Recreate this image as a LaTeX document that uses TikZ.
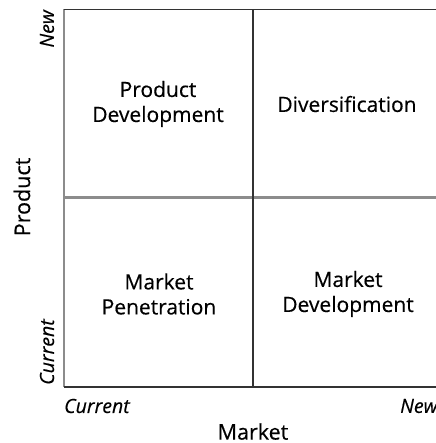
\documentclass[tikz,border=0pt]{standalone}
\usepackage{fontspec}
\setmainfont{Open Sans}[FakeBold=0.4,AutoFakeBold=0.4]
\usetikzlibrary{positioning}

\tikzset{
    cell/.style={align=center, font=\fontsize{21}{25}\selectfont\bfseries},
    axislabel/.style={font=\fontsize{21.5}{22}\selectfont\bfseries},
    endlabel/.style={font=\fontsize{19.5}{20}\selectfont\itshape},
    darkline/.style={draw=black!80, line width=1.6pt},
    lightline/.style={draw=black!45, line width=2.4pt},
}

\begin{document}
\begin{tikzpicture}[x=1pt,y=1pt]

    % Fix the page to the size of the reference
    \useasboundingbox (0,0) rectangle (435,443);

    % Define the grid positions
    \def\xl{64}
    \def\xm{253}
    \def\xr{440}
    \def\yt{433.5}
    \def\ym{245.5}
    \def\yb{56}

    % Draw the grid lines
    \draw[lightline] (\xl,\ym) -- (\xr,\ym);
    \draw[lightline, line width=2pt] (\xl,\yt) -- (\xl,\yb);
    \draw[darkline] (\xl,\yt) -- (\xr,\yt);
    \draw[darkline] (\xl,\yb) -- (\xr,\yb);
    \draw[darkline] (\xm,\yt) -- (\xm,\yb);

    % Quadrant texts
    \node[cell] (prodev) at (158,339) {Product\\Development};
    \node[cell] (divers) at (347,339) {Diversification};
    \node[cell] (mktpen) at (159,149) {Market\\Penetration};
    \node[cell] (mktdev) at (348,149) {Market\\Development};

    % Axis texts
    \node[axislabel, rotate=90] (prodaxis) at (22,246) {Product};
    \node[endlabel, rotate=90, anchor=east, inner sep=0pt] (prodnew) at (47,433) {New};
    \node[endlabel, rotate=90, anchor=west, inner sep=0pt] (prodcur) at (47,58) {Current};
    \node[endlabel, anchor=west, inner sep=0pt] (mktcur) at (64,37) {Current};
    \node[endlabel, anchor=west, inner sep=0pt] (mktnew) at (400,37) {New};
    \node[axislabel, inner sep=0pt, anchor=south] (mktaxis) at (253,3) {Market};

\end{tikzpicture}
\end{document}
